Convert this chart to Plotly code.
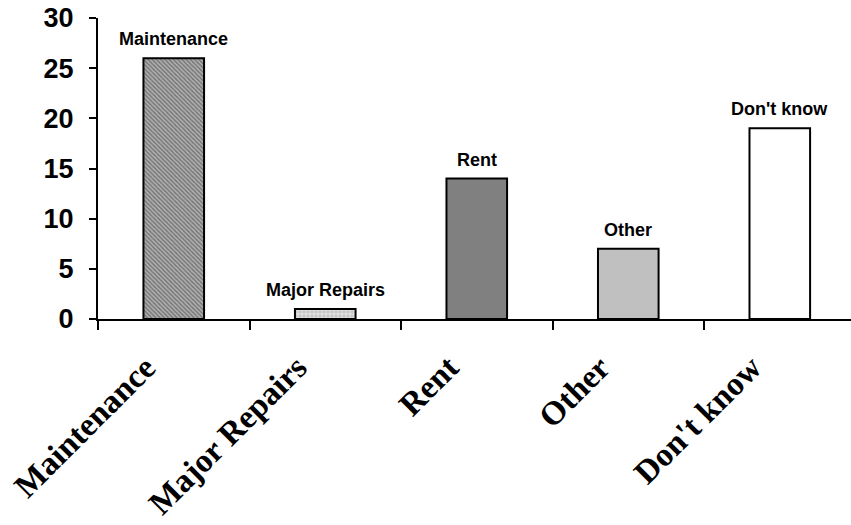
import plotly.graph_objects as go

categories = ["Maintenance", "Major Repairs", "Rent", "Other", "Don't know"]
values = [26, 1, 14, 7, 19]
y_ticks = [0, 5, 10, 15, 20, 25, 30]

fill_colors = ["#9a9a9a", "#d8d8d8", "#808080", "#c0c0c0", "#ffffff"]
patterns = [
    dict(shape="\\", fgcolor="#333333", bgcolor="#b0b0b0", size=3, solidity=0.45),
    dict(shape="+", fgcolor="#777777", bgcolor="#e0e0e0", size=4, solidity=0.25),
    dict(shape=""), dict(shape=""), dict(shape=""),
]

fig = go.Figure()
for cat, val, col, pat in zip(categories, values, fill_colors, patterns):
    fig.add_trace(go.Bar(
        x=[cat], y=[val], width=0.4,
        marker=dict(color=col, line=dict(color="black", width=2), pattern=pat),
        showlegend=False, hoverinfo="skip",
    ))
    fig.add_annotation(
        x=cat, y=val, text=f"<b>{cat}</b>", showarrow=False,
        yanchor="bottom", yshift=7,
        font=dict(family="Arial, Liberation Sans", size=18, color="black"),
    )

fig.update_layout(
    width=851, height=525,
    margin=dict(l=98, r=0, t=18, b=206),
    paper_bgcolor="white", plot_bgcolor="white",
    barmode="overlay",
)
fig.update_xaxes(
    type="category", categoryorder="array", categoryarray=categories,
    range=[-0.5, 4.47],
    showline=True, linecolor="black", linewidth=2,
    ticks="outside", tickson="boundaries", ticklen=9, tickwidth=2, tickcolor="black",
    tickangle=-45,
    tickfont=dict(family="Liberation Serif, Times New Roman", size=33, color="black"),
    ticklabelstandoff=14, ticklabelshift=-28,
    showgrid=False, zeroline=False,
)
fig.update_xaxes(ticktext=[f"<b>{c}</b>" for c in categories], tickvals=categories)
fig.update_yaxes(
    range=[0, 30], tickvals=y_ticks, ticktext=[f"<b>{t}</b>" for t in y_ticks],
    showline=True, linecolor="black", linewidth=2,
    ticks="outside", ticklen=7, tickwidth=2, tickcolor="black",
    tickfont=dict(family="Arial, Liberation Sans", size=27, color="black"),
    ticklabelstandoff=10,
    showgrid=False, zeroline=False,
)

fig.write_html("out.html")
